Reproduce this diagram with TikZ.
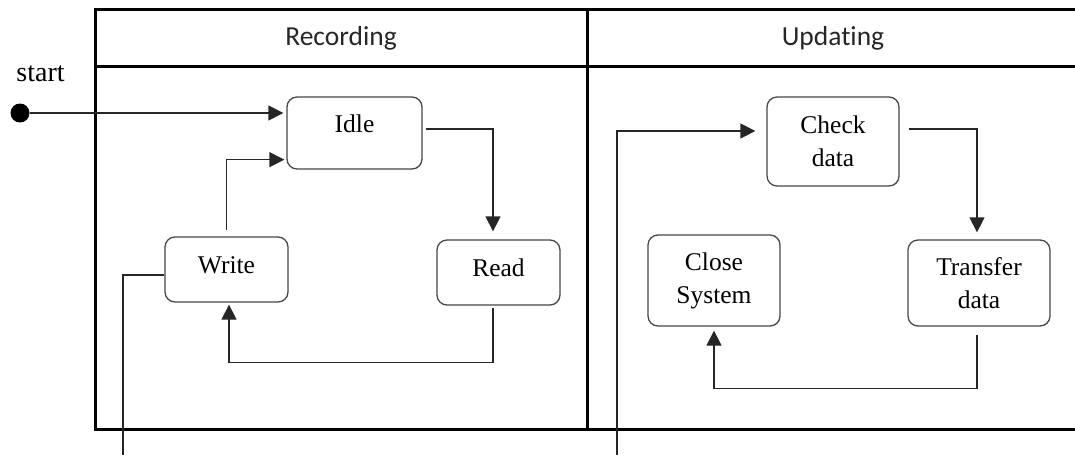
\documentclass[tikz,border=0pt]{standalone}
\usepackage{fontspec}
\setmainfont{Liberation Serif}
\newfontfamily\hdrfont[Ligatures=NoCommon]{Carlito}
\usetikzlibrary{arrows.meta,calc}
\begin{document}
\begin{tikzpicture}[x=1pt,y=-1pt,
  statebox/.style={draw=black!72, line width=1.3pt, rounded corners=10pt,
    font=\fontsize{25.5}{33}\selectfont, align=center, inner sep=0pt},
  conn/.style={line width=1.3pt, draw=black!85},
  arr/.style={conn, -{Triangle[length=15pt,width=15pt]}},
  frameline/.style={line width=3pt, line join=miter},
  hdr/.style={font=\hdrfont\fontsize{27.5}{33}\selectfont, anchor=base, text=black!85}]
\useasboundingbox (0,0) rectangle (1075,455);

% frame (swimlanes)
\draw[frameline] (1076,9.5) -- (95,9.5) -- (95,429) -- (1076,429);
\draw[frameline] (95,66) -- (1076,66);
\draw[frameline] (587,9.5) -- (587,429);
\node[hdr] (hrec) at (341,45) {Recording};
\node[hdr] (hupd) at (833,45) {Updating};

% start
\node[circle, fill=black, minimum size=19pt, inner sep=0pt] (start) at (20,113) {};
\node[font=\fontsize{28}{30}\selectfont, anchor=base] (startlbl) at (40.5,81) {start};

% states
\node[statebox, minimum width=135pt, minimum height=72pt, text height=17pt, text depth=19pt] (idle) at (354.5,133) {Idle};
\node[statebox, minimum width=123pt, minimum height=65pt, text height=17pt, text depth=10pt] (write) at (226.5,269.5) {Write};
\node[statebox, minimum width=123pt, minimum height=65pt, text height=17pt, text depth=10pt] (read) at (498.5,272.5) {Read};
\node[statebox, minimum width=132pt, minimum height=89pt] (check) at (833,141.5) {Check\\data};
\node[statebox, minimum width=132pt, minimum height=91pt] (close) at (714,280.5) {Close\\System};
\node[statebox, minimum width=142pt, minimum height=86pt] (transfer) at (979,283) {Transfer\\data};

\coordinate (wexit) at (123,455);
\coordinate (centry) at (617,455);

% connectors
\draw[arr, shorten >=3pt] (start) -- (start -| idle.west);
\draw[arr, shorten <=6pt, shorten >=2pt] (write.north) |- ([yshift=10pt]idle.south west);
\draw[arr, shorten <=3pt, shorten >=8pt] ([yshift=4pt]idle.east) -| ([xshift=-5.5pt]read.north);
\draw[arr, shorten <=2pt, shorten >=2pt] ([xshift=-5.5pt]read.south) -- ++(0,57) -| ([xshift=2.5pt]write.south);
\draw[conn] ([yshift=-5.5pt]write.west) -| (wexit);
\draw[arr, shorten >=11pt] (centry) |- ([yshift=10.5pt]check.west);
\draw[arr, shorten <=9pt, shorten >=7pt] ([yshift=12.5pt]check.east) -| ([xshift=-2pt]transfer.north);
\draw[arr, shorten <=8pt, shorten >=4pt] ([xshift=-2pt]transfer.south) -- ++(0,62) -| (close.south);
\end{tikzpicture}
\end{document}
